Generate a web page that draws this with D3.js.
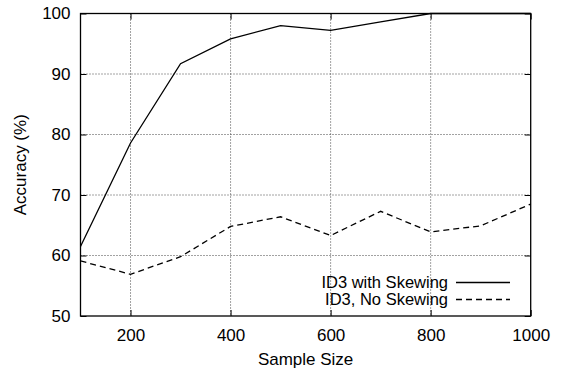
<!DOCTYPE html>
<html lang="en">
<head>
  <meta charset="UTF-8">
  <title>Accuracy vs Sample Size</title>
  <script src="https://d3js.org/d3.v7.min.js"></script>
  <style>
    body { margin: 0; background: #fff; }
    svg { font-family: "Liberation Sans", Arial, sans-serif; }
    .grid line { stroke: #444; stroke-width: 1px; stroke-dasharray: 1,2; }
    .line { fill: none; stroke: #000; stroke-width: 1.3px; }
  </style>
</head>
<body>
  <svg width="561" height="374"></svg>
  <script>
    const sampleSizes = [100, 200, 300, 400, 500, 600, 700, 800, 900, 1000];
    const withSkewing = [61.5, 78.6, 91.7, 95.8, 98.0, 97.2, 98.6, 100, 100, 100];
    const noSkewing = [59.1, 56.9, 59.8, 64.8, 66.4, 63.3, 67.3, 63.9, 64.9, 68.5];
    const xTicks = [200, 400, 600, 800, 1000];
    const yTicks = [50, 60, 70, 80, 90, 100];
    const seriesNames = ["ID3 with Skewing", "ID3, No Skewing"];

    const svg = d3.select("svg");
    const pLeft = 80.5, pRight = 530.7, pTop = 13.5, pBottom = 316;

    const x = d3.scaleLinear().domain([100, 1000]).range([pLeft, pRight]);
    const y = d3.scaleLinear().domain([50, 100]).range([pBottom, pTop]);

    // grid
    const grid = svg.append("g").attr("class", "grid");
    grid.selectAll(".vg").data(xTicks.filter(d => d < 1000)).enter().append("line")
      .attr("x1", d => x(d)).attr("x2", d => x(d))
      .attr("y1", pTop).attr("y2", pBottom);
    grid.selectAll(".hg").data(yTicks.filter(d => d > 50 && d < 100)).enter().append("line")
      .attr("x1", pLeft).attr("x2", pRight)
      .attr("y1", d => y(d)).attr("y2", d => y(d));

    // axes with inward ticks
    const fontSize = "17px";
    const gx = svg.append("g").attr("transform", `translate(0,${pBottom})`)
      .call(d3.axisBottom(x).tickValues(xTicks).tickFormat(d3.format("d")).tickSize(-6).tickPadding(13));
    const gy = svg.append("g").attr("transform", `translate(${pLeft},0)`)
      .call(d3.axisLeft(y).tickValues(yTicks).tickSize(-6).tickPadding(10));
    const gt = svg.append("g").attr("transform", `translate(0,${pTop})`)
      .call(d3.axisTop(x).tickValues(xTicks).tickSize(-6).tickFormat(""));
    const gr = svg.append("g").attr("transform", `translate(${pRight},0)`)
      .call(d3.axisRight(y).tickValues(yTicks).tickSize(-6).tickFormat(""));
    [gx, gy, gt, gr].forEach(g => {
      g.select(".domain").remove();
      g.selectAll("line").attr("stroke", "#000");
      g.selectAll("text").attr("fill", "#000").style("font-size", fontSize);
    });

    // frame
    svg.append("rect")
      .attr("x", pLeft).attr("y", pTop)
      .attr("width", pRight - pLeft).attr("height", pBottom - pTop)
      .attr("fill", "none").attr("stroke", "#000").attr("stroke-width", 1.3);

    // lines
    const line = d3.line().x(d => x(d[0])).y(d => y(d[1]));
    svg.append("path").datum(d3.zip(sampleSizes, withSkewing))
      .attr("class", "line").attr("d", line);
    svg.append("path").datum(d3.zip(sampleSizes, noSkewing))
      .attr("class", "line").attr("stroke-dasharray", "6,4").attr("d", line);

    // axis titles
    svg.append("text")
      .attr("x", (pLeft + pRight) / 2).attr("y", 365)
      .attr("text-anchor", "middle").style("font-size", fontSize)
      .text("Sample Size");
    svg.append("text")
      .attr("transform", `translate(26,${(pTop + pBottom) / 2}) rotate(-90)`)
      .attr("text-anchor", "middle").style("font-size", fontSize)
      .text("Accuracy (%)");

    // legend
    const legend = svg.append("g");
    seriesNames.forEach((name, i) => {
      const ly = 282.5 + i * 17;
      legend.append("text")
        .attr("x", 448).attr("y", ly).attr("dy", "0.35em")
        .attr("text-anchor", "end").style("font-size", "16.5px")
        .text(name);
      legend.append("line")
        .attr("x1", 456).attr("x2", 510).attr("y1", ly).attr("y2", ly)
        .attr("stroke", "#000").attr("stroke-width", 1.3)
        .attr("stroke-dasharray", i === 1 ? "6,4" : null);
    });
  </script>
</body>
</html>
